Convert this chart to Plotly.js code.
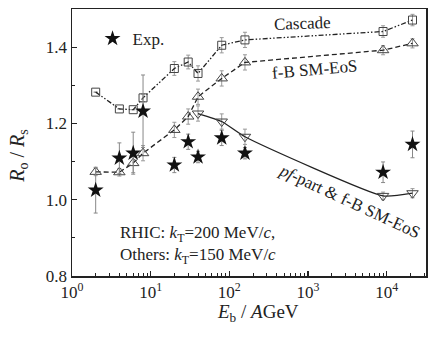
<!DOCTYPE html>
<html>
<head>
<meta charset="utf-8">
<script src="https://cdn.plot.ly/plotly-3.0.1.min.js"></script>
<style>html,body{margin:0;padding:0;background:#fff;}#chart{width:432px;height:337px;}</style>
</head>
<body>
<div id="chart"></div>
<script>
// Beam energies (AGeV)
const energies = [2, 4, 6, 8, 20, 30, 40, 80, 158, 9000, 21300];
const cascade = [1.282, 1.238, 1.236, 1.267, 1.344, 1.361, 1.331, 1.405, 1.419, 1.441, 1.471];
const cascadeErr = [0, 0, 0, 0.01, 0.018, 0.018, 0.02, 0.02, 0.02, 0.015, 0.015];
const fbEos = [1.073, 1.072, 1.096, 1.122, 1.183, 1.218, 1.27, 1.318, 1.36, 1.392, 1.41];
const fbEosErr = [0.01, 0.01, 0.025, 0.02, 0.02, 0.02, 0.02, 0.02, 0.02, 0.012, 0.012];
const pfEnergies = [40, 80, 158, 9000, 21300];
const pfPart = [1.226, 1.205, 1.165, 1.01, 1.017];
const pfPartErr = [0.02, 0.02, 0.02, 0.01, 0.012];
const expVals = [1.025, 1.109, 1.122, 1.232, 1.091, 1.152, 1.112, 1.162, 1.122, 1.072, 1.145];
const expErr = [0.06, 0.04, 0.055, 0.095, 0.02, 0.02, 0.015, 0.02, 0.015, 0.027, 0.035];
const xTickVals = [1, 10, 100, 1000, 10000];
const xTickText = ['10<sup>0</sup>', '10<sup>1</sup>', '10<sup>2</sup>', '10<sup>3</sup>', '10<sup>4</sup>'];

const FONT = 'Liberation Serif, Times New Roman, serif';
const minorVals = [];
for (let d = 0; d <= 4; d++) for (let k = 2; k <= 9; k++) { const v = k * Math.pow(10, d); if (v < 31600) minorVals.push(v); }

const modelColor = '#444';
const errColor = '#999';
const traces = [
  {x: energies, y: cascade, type: 'scatter', mode: 'lines+markers', showlegend: false,
   line: {color: '#222', width: 1.3, dash: '5px,2px,1.5px,2px,1.5px,2px'},
   marker: {symbol: 'square-open', size: 8, color: modelColor, line: {width: 1}},
   error_y: {type: 'data', array: cascadeErr, visible: true, color: errColor, thickness: 1, width: 2}},
  {x: energies, y: fbEos, type: 'scatter', mode: 'lines+markers', showlegend: false,
   line: {color: '#222', width: 1.3, dash: '5px,3px'},
   marker: {symbol: 'triangle-up-open', size: 10, color: modelColor, line: {width: 1}},
   error_y: {type: 'data', array: fbEosErr, visible: true, color: errColor, thickness: 1, width: 2}},
  {x: pfEnergies, y: pfPart, type: 'scatter', mode: 'lines+markers', showlegend: false,
   line: {color: '#222', width: 1.3, shape: 'spline', smoothing: 0.5},
   marker: {symbol: 'triangle-down-open', size: 10, color: modelColor, line: {width: 1}},
   error_y: {type: 'data', array: pfPartErr, visible: true, color: errColor, thickness: 1, width: 2}},
  {x: energies, y: expVals, type: 'scatter', mode: 'markers', name: 'Exp.', showlegend: true,
   marker: {symbol: 'star', size: 12, color: '#111', line: {width: 0}},
   error_y: {type: 'data', array: expErr, visible: true, color: '#888', thickness: 1, width: 2}}
];

const layout = {
  width: 432, height: 337,
  margin: {l: 72, r: 6, t: 9, b: 61},
  paper_bgcolor: '#fff', plot_bgcolor: '#fff',
  font: {family: FONT, size: 17, color: '#222'},
  showlegend: true,
  legend: {x: 0.058, y: 0.955, xanchor: 'left', yanchor: 'top', bgcolor: 'rgba(0,0,0,0)',
           font: {family: FONT, size: 17, color: '#222'}, itemwidth: 30, tracegroupgap: 0},
  xaxis: {type: 'log', range: [0, 4.5], tickmode: 'array', tickvals: xTickVals, ticktext: xTickText,
          ticks: 'inside', ticklen: 5, tickwidth: 1.2, tickcolor: '#222',
          showline: true, linewidth: 1.5, linecolor: '#222', mirror: true, showgrid: false, zeroline: false,
          tickfont: {family: FONT, size: 17, color: '#222'},
          minor: {tickmode: 'array', tickvals: minorVals, ticks: 'inside', ticklen: 3, tickwidth: 1, tickcolor: '#222', showgrid: false}},
  yaxis: {range: [0.8, 1.5], tick0: 0.8, dtick: 0.2, tickformat: '.1f',
          ticks: 'inside', ticklen: 5, tickwidth: 1.2, tickcolor: '#222',
          showline: true, linewidth: 1.5, linecolor: '#222', mirror: true, showgrid: false, zeroline: false,
          tickfont: {family: FONT, size: 17, color: '#222'},
          minor: {dtick: 0.1, ticks: 'inside', ticklen: 3, tickwidth: 1, tickcolor: '#222', showgrid: false}},
  annotations: [
    {xref: 'paper', yref: 'paper', x: 0.65, y: 0.945, xanchor: 'center', yanchor: 'middle', text: 'Cascade', showarrow: false, textangle: -2,
     font: {family: FONT, size: 17, color: '#222'}},
    {xref: 'paper', yref: 'paper', x: 0.685, y: 0.772, xanchor: 'center', yanchor: 'middle', text: 'f-B SM-EoS', showarrow: false, textangle: -5,
     font: {family: FONT, size: 17, color: '#222'}},
    {xref: 'paper', yref: 'paper', x: 0.785, y: 0.28, xanchor: 'center', yanchor: 'middle', text: '<i>pf</i>-part &amp; f-B SM-EoS', showarrow: false, textangle: 25,
     font: {family: FONT, size: 17, color: '#222'}},
    {xref: 'paper', yref: 'paper', x: 0.13, y: 0.115, xanchor: 'left', yanchor: 'middle', align: 'left',
     text: 'RHIC: <i>k</i><sub>T</sub>=200 MeV/<i>c</i>,<br>Others: <i>k</i><sub>T</sub>=150 MeV/<i>c</i>', showarrow: false,
     font: {family: FONT, size: 17, color: '#222'}},
    {xref: 'paper', yref: 'paper', x: 0.525, y: -0.137, xanchor: 'center', yanchor: 'middle',
     text: '<i>E</i><sub>b</sub> / <i>A</i>GeV', showarrow: false, font: {family: FONT, size: 19, color: '#222'}},
    {xref: 'paper', yref: 'paper', x: -0.15, y: 0.45, xanchor: 'center', yanchor: 'middle', textangle: -90,
     text: '<i>R</i><sub>o</sub> / <i>R</i><sub>s</sub>', showarrow: false, font: {family: FONT, size: 20, color: '#222'}}
  ]
};

Plotly.newPlot('chart', traces, layout, {displayModeBar: false, staticPlot: true});
</script>
</body>
</html>
